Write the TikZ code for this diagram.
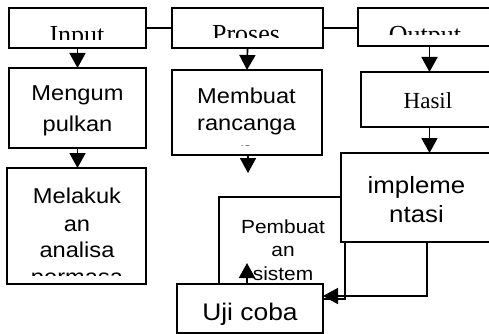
\documentclass[tikz,border=0pt]{standalone}
\usepackage{fontspec}
\setmainfont{Liberation Serif}
\newfontfamily\wsans[FakeStretch=1.1]{Liberation Sans}
\usetikzlibrary{arrows.meta}
\begin{document}
\begin{tikzpicture}[x=1pt,y=-1pt,
  box/.style={draw, line width=1.7pt, fill=white, rectangle, inner sep=0pt, outer sep=0pt, anchor=north west},
  ser/.style={font=\fontsize{#1}{#1}\selectfont\rmfamily, anchor=base, inner sep=0pt},
  san/.style={font=\fontsize{#1}{#1}\selectfont\wsans, anchor=base, inner sep=0pt},
  tip/.style={-{Triangle[width=16pt 0 0,length=15pt 0 0]}},
  arr/.style={line width=1.7pt, tip},
  ln/.style={line width=1.7pt}]
\useasboundingbox (0,0) rectangle (489,334);
\fill[white] (0,0) rectangle (489,334);

% top row
\node[box, minimum width=137pt, minimum height=40pt] (input) at (9,8) {};
\node[box, minimum width=151pt, minimum height=40pt] (proses) at (172,8) {};
\node[box, minimum width=140pt, minimum height=38pt] (output) at (358,8) {};
\begin{scope}
  \clip (9,8) rectangle (146,40);
  \node[ser=26] (tinput) at (77,44) {Input};
\end{scope}
\begin{scope}
  \clip (172,8) rectangle (323,38);
  \node[ser=26] (tproses) at (246,43) {Proses};
\end{scope}
\begin{scope}
  \clip (358,8) rectangle (489,35);
  \node[ser=26] (toutput) at (425,44) {Output};
\end{scope}

% second row
\node[box, minimum width=137pt, minimum height=80pt] (mengum) at (9,68) {};
\node[san=21.5] (tm1) at (77.5,101) {Mengum};
\node[san=21.5] (tm2) at (77.5,131) {pulkan};

\node[box, minimum width=150pt, minimum height=85pt] (membuat) at (172,70) {};
\begin{scope}
  \clip (172,70) rectangle (322,145.5);
  \node[san=21.5] (tb1) at (246.5,103) {Membuat};
  \node[san=21.5] (tb2) at (246.5,130) {rancanga};
  \node[san=21.5] (tb3) at (246.5,157) {n};
\end{scope}

\node[box, minimum width=137pt, minimum height=55pt] (hasil) at (361,72) {};
\node[ser=23] (th) at (428,108) {Hasil};

% third row
\node[box, minimum width=139pt, minimum height=116pt] (melakuk) at (7,168) {};
\begin{scope}
  \clip (7,168) rectangle (146,275);
  \node[san=21.5] (tl1) at (77,203) {Melakuk};
  \node[san=21.5] (tl2) at (77,231) {an};
  \node[san=21.5] (tl3) at (77,257) {analisa};
  \node[san=21.5] (tl4) at (77,284) {permasa};
\end{scope}

\node[box, minimum width=126pt, minimum height=102pt] (pembuat) at (219,197) {};
\node[san=19] (tp1) at (283,233) {Pembuat};
\node[san=19] (tp2) at (283,256) {an};
\node[san=19] (tp3) at (283,280) {sistem};

\node[box, minimum width=150pt, minimum height=89pt] (impl) at (341,153) {};
\node[san=23.5] (ti1) at (416.5,193) {impleme};
\node[san=23.5] (ti2) at (416.5,222) {ntasi};

\node[box, minimum width=146pt, minimum height=49pt] (uji) at (177,284) {};
\node[san=24] (tu) at (250,320) {Uji coba};

% connectors
\draw[ln] (input.east) -- (proses.west);
\draw[ln] (proses.east) -- (proses.east -| output.west);
\draw[arr] (input.south) -- (mengum.north);
\draw[arr] (proses.south) -- (membuat.north);
\draw[arr] (hasil.north |- output.south) -- (hasil.north);
\draw[arr] (mengum.south) -- (mengum.south |- melakuk.north);
\coordinate (m1) at (248,173);
\draw[arr] (m1 |- membuat.south) -- (m1);
\draw[arr] (hasil.south) -- (hasil.south |- impl.north);
\coordinate (c1) at (427,296);
\draw[arr] (c1 |- impl.south) -- (c1) -- (c1 -| uji.east);
\coordinate (p1) at (247,263);
\draw[arr] (p1 |- uji.north) -- (p1);
\end{tikzpicture}
\end{document}
